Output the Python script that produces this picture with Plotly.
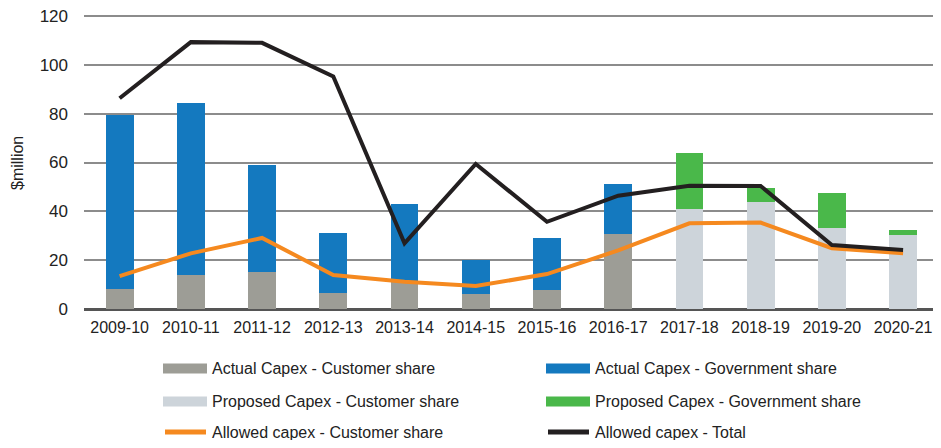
import plotly.graph_objects as go

years = ["2009-10", "2010-11", "2011-12", "2012-13", "2013-14", "2014-15",
         "2015-16", "2016-17", "2017-18", "2018-19", "2019-20", "2020-21"]

actual_customer = [8.2, 13.9, 15.3, 6.4, 11.5, 6.1, 7.8, 30.7, None, None, None, None]
actual_government = [71.4, 70.5, 43.6, 24.6, 31.5, 14.0, 21.3, 20.7, None, None, None, None]
proposed_customer = [None, None, None, None, None, None, None, None, 41.0, 43.7, 33.2, 30.5]
proposed_government = [None, None, None, None, None, None, None, None, 22.7, 5.9, 14.3, 1.9]
allowed_customer = [13.5, 22.8, 29.1, 13.9, 11.2, 9.4, 14.3, 24.0, 35.1, 35.4, 24.9, 22.8]
allowed_total = [86.3, 109.3, 109.0, 95.2, 26.9, 59.4, 35.7, 46.4, 50.5, 50.4, 26.2, 24.2]

FONT = "Liberation Sans, Arial, sans-serif"
TXT = "#222222"
OFF = 8  # page body margin
W, H = 941 - 2 * OFF, 448 - 2 * OFF
L, R, T = 84 - OFF, 0, 3
B = H - (309 - OFF)
PW, PH = W - L - R, H - T - B
Y_TOP = 120 * PH / (309 - 16)  # keeps 120 at page y=16 while leaving room for its gridline

fig = go.Figure()
fig.add_trace(go.Bar(x=years, y=actual_customer, name="Actual Capex - Customer share",
                     marker=dict(color="#9d9d96", line=dict(width=0)), width=0.39))
fig.add_trace(go.Bar(x=years, y=actual_government, name="Actual Capex - Government share",
                     marker=dict(color="#1479bf", line=dict(width=0)), width=0.39))
fig.add_trace(go.Bar(x=years, y=proposed_customer, name="Proposed Capex - Customer share",
                     marker=dict(color="#cdd4da", line=dict(width=0)), width=0.39))
fig.add_trace(go.Bar(x=years, y=proposed_government, name="Proposed Capex - Government share",
                     marker=dict(color="#4ab84a", line=dict(width=0)), width=0.39))
fig.add_trace(go.Scatter(x=years, y=allowed_customer, name="Allowed capex - Customer share",
                         mode="lines", line=dict(color="#f5891f", width=4)))
fig.add_trace(go.Scatter(x=years, y=allowed_total, name="Allowed capex - Total",
                         mode="lines", line=dict(color="#231f20", width=4)))

# custom legend (2 columns x 3 rows) built from the traces; positions given in page px
def px_x(p):
    return (p - OFF - L) / PW

def px_y(p):
    return (H - B - (p - OFF)) / PH

col_x = [163, 546]
row_y = [368.5, 401.5, 432]
shapes = []
annotations = []
for i, tr in enumerate(fig.data):
    cx = col_x[i % 2]
    cy = row_y[i // 2]
    if tr.type == "bar":
        shapes.append(dict(type="rect", xref="paper", yref="paper",
                           x0=px_x(cx), x1=px_x(cx + 44), y0=px_y(cy - 5), y1=px_y(cy + 5),
                           fillcolor=tr.marker.color, line=dict(width=0)))
    else:
        shapes.append(dict(type="line", xref="paper", yref="paper",
                           x0=px_x(cx + 2), x1=px_x(cx + 43), y0=px_y(cy), y1=px_y(cy),
                           line=dict(color=tr.line.color, width=5)))
    annotations.append(dict(text=tr.name, xref="paper", yref="paper",
                            x=px_x(cx + 47), y=px_y(cy), xanchor="left", yanchor="middle",
                            showarrow=False, font=dict(family=FONT, size=16, color=TXT)))

annotations.append(dict(text="$million", xref="paper", yref="paper",
                        x=px_x(18), y=px_y(163), xanchor="center", yanchor="middle", textangle=-90,
                        showarrow=False, font=dict(family=FONT, size=16, color=TXT)))

fig.update_layout(
    width=W, height=H,
    barmode="stack",
    plot_bgcolor="white", paper_bgcolor="white",
    margin=dict(l=L, r=R, t=T, b=B),
    font=dict(family=FONT, size=16, color=TXT),
    showlegend=False,
    shapes=shapes,
    annotations=annotations,
    xaxis=dict(type="category", range=[-0.5, 11.42], showgrid=False, showline=True,
               linecolor="#555555", linewidth=1.5, automargin=False,
               ticklabeloverflow="allow",
               ticks="", tickfont=dict(size=16), ticklabelstandoff=3),
    yaxis=dict(range=[0, Y_TOP], tickvals=[0, 20, 40, 60, 80, 100, 120],
               showgrid=True, gridcolor="#8c8c8c", gridwidth=1.5,
               zeroline=True, zerolinecolor="#555555", zerolinewidth=1.5, automargin=False,
               ticklabeloverflow="allow",
               showline=False, ticks="", tickfont=dict(size=17), ticklabelstandoff=15),
)

fig.write_html("out.html")
